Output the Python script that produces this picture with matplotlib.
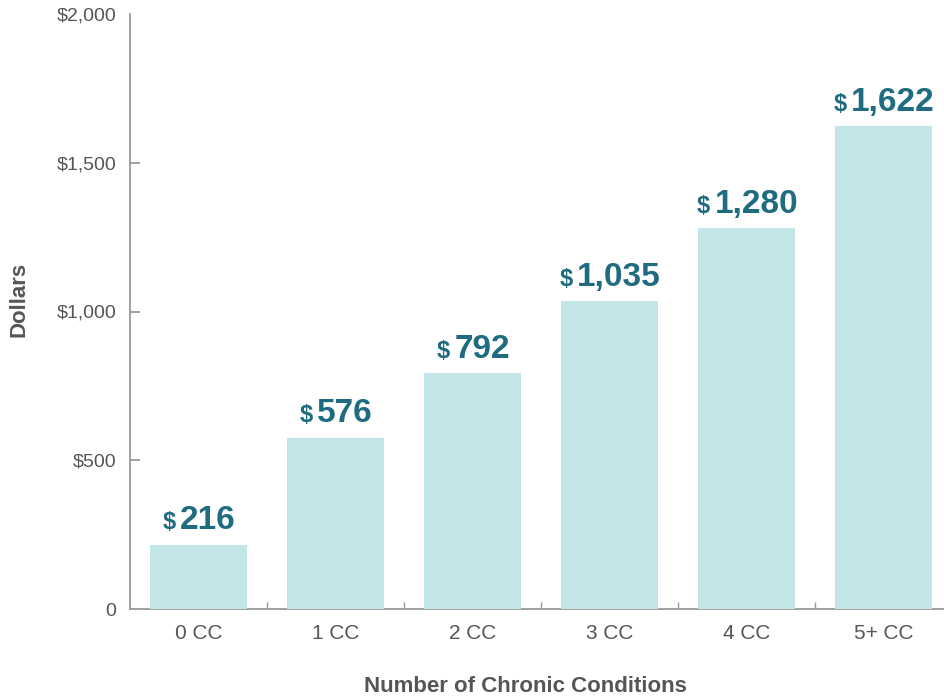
import matplotlib
matplotlib.use("Agg")
import matplotlib.pyplot as plt
from matplotlib.ticker import FixedLocator, FuncFormatter

## Data
categories = ["0 CC", "1 CC", "2 CC", "3 CC", "4 CC", "5+ CC"]
costs = [216, 576, 792, 1035, 1280, 1622]
y_ticks = [0, 500, 1000, 1500, 2000]

bar_color = "#c2e5e8"
label_color = "#1f6c80"
text_gray = "#555555"
axis_gray = "#9a9a9a"

plt.rcParams["font.family"] = ["Liberation Sans", "DejaVu Sans"]

fig = plt.figure(figsize=(9.45, 7.0), dpi=100)
ax = fig.add_axes([130 / 945, 1 - 609 / 700, (952 - 130) / 945, (609 - 14) / 700])

x = list(range(len(categories)))
ax.bar(x, costs, width=0.715, color=bar_color, zorder=3)

ax.set_xlim(-0.5, 5.5)
ax.set_ylim(0, 2000)

# spines
for s in ["top", "right"]:
    ax.spines[s].set_visible(False)
for s in ["left", "bottom"]:
    ax.spines[s].set_color(axis_gray)
    ax.spines[s].set_linewidth(1.3)
    ax.spines[s].set_zorder(1)

# y ticks
ax.yaxis.set_major_locator(FixedLocator(y_ticks))
ax.yaxis.set_major_formatter(FuncFormatter(lambda v, p: "0" if v == 0 else "${:,.0f}".format(v)))
ax.tick_params(axis="y", direction="in", length=7, width=1.3, color=axis_gray,
               labelsize=14, labelcolor=text_gray, pad=10)
yt = ax.yaxis.get_major_ticks()
yt[0].tick1line.set_visible(False)
yt[-1].tick1line.set_visible(False)

# x ticks: labels at bars, small ticks between bars
ax.set_xticks(x)
ax.set_xticklabels(categories)
ax.set_xticks([i + 0.5 for i in x[:-1]], minor=True)
ax.tick_params(axis="x", which="major", length=0, labelsize=15, labelcolor=text_gray, pad=11)
ax.tick_params(axis="x", which="minor", direction="in", length=5, width=1.0, color=axis_gray)

ax.set_ylabel("Dollars", fontsize=16, color=text_gray, fontweight="bold")
ax.yaxis.set_label_coords(-0.122, 0.52)
ax.set_xlabel("Number of Chronic Conditions", fontsize=16, color=text_gray, fontweight="bold")
ax.xaxis.set_label_coords((525 - 130) / 822, -0.112)

# value labels: small "$" plus big number
fig.canvas.draw()
renderer = fig.canvas.get_renderer()
for xi, v in zip(x, costs):
    num = ax.annotate("{:,}".format(v), (xi, v), xytext=(7, 11), textcoords="offset points",
                      ha="center", va="baseline", fontsize=24, fontweight="bold",
                      color=label_color, zorder=4)
    bb = num.get_window_extent(renderer)
    w_pts = bb.width * 72 / fig.dpi
    ax.annotate("$", (xi, v), xytext=(7 - w_pts / 2 - 3, 11), textcoords="offset points",
                ha="right", va="baseline", fontsize=17, fontweight="bold",
                color=label_color, zorder=4)

fig.savefig("out.png", dpi=100)
